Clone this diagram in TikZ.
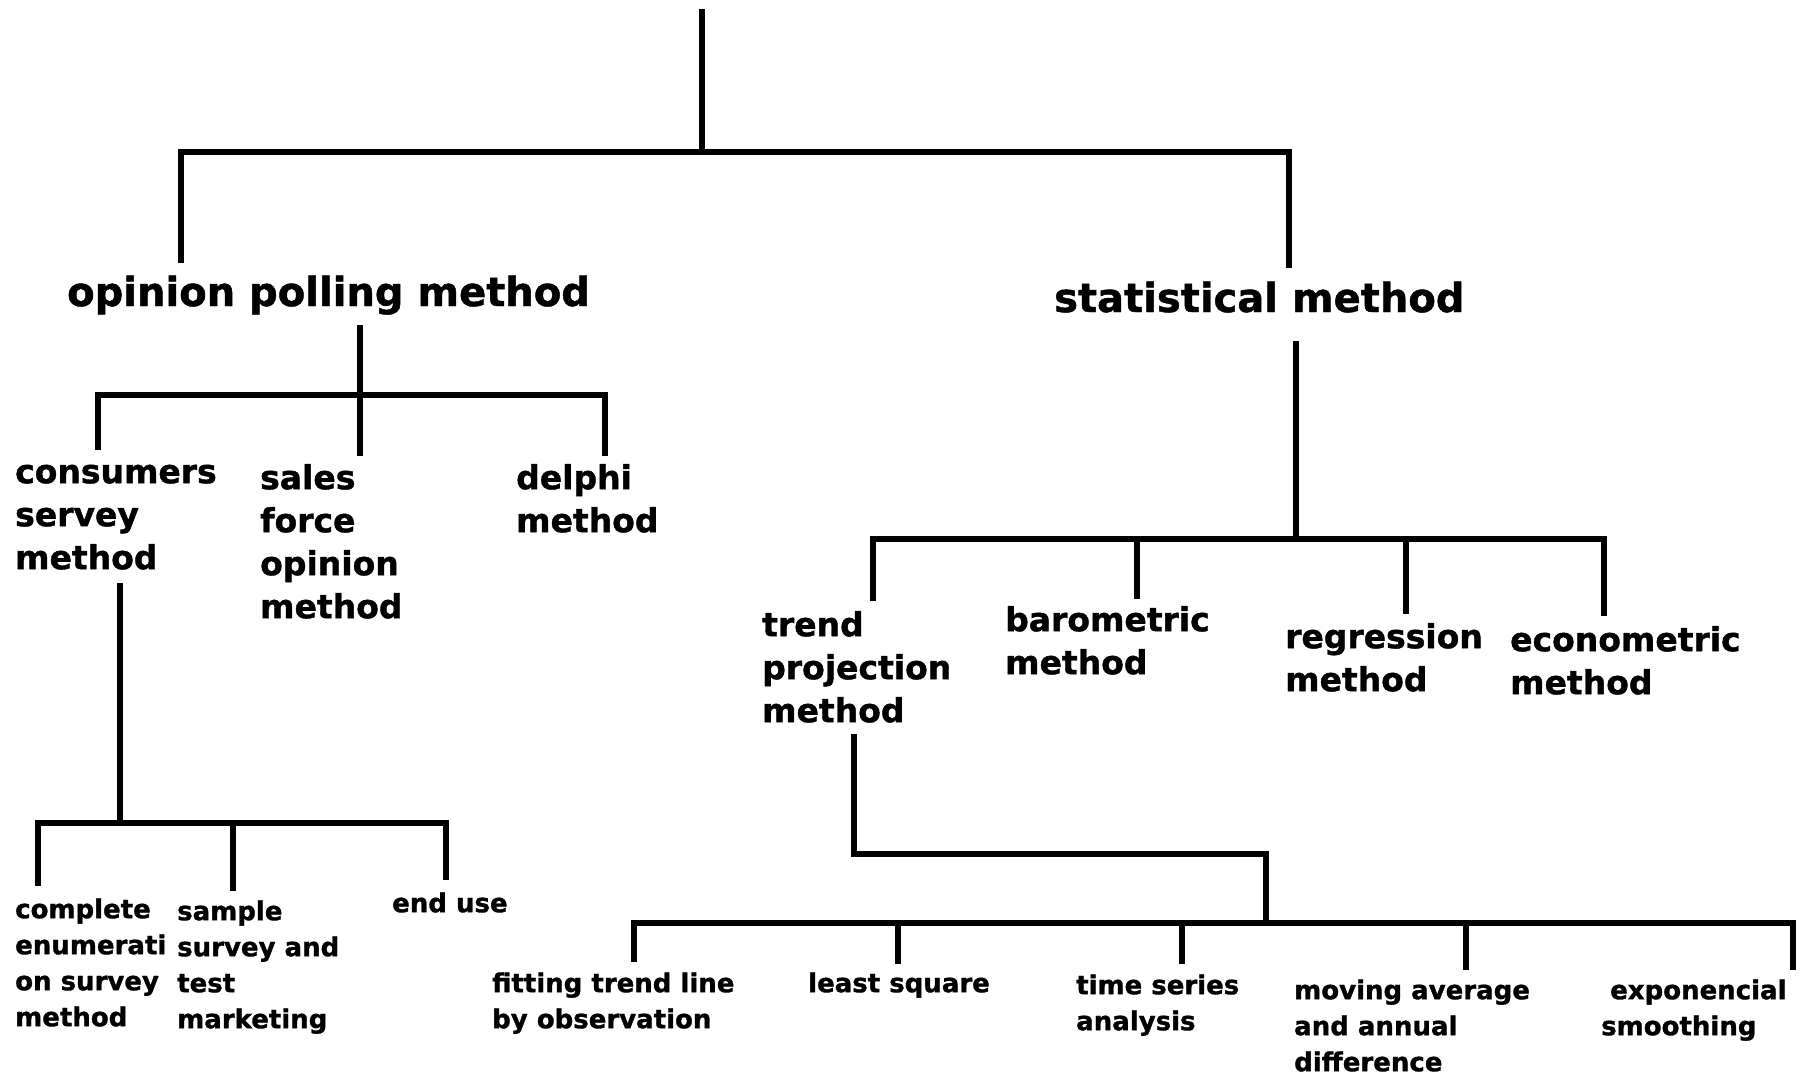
\documentclass[tikz,border=0pt]{standalone}
\usepackage{fontspec}
\setmainfont{DejaVu Sans}[BoldFeatures={FakeBold=1.2}]
\begin{document}
\begin{tikzpicture}[x=1pt,y=-1pt,
  tree/.style={line width=6pt, line join=miter},
  head/.style={inner sep=0pt, anchor=base west, font=\fontsize{40}{50}\selectfont\bfseries},
  mid/.style={inner sep=0pt, anchor=north west, align=left, yshift=30.1pt,
              font=\fontsize{33}{43}\selectfont\bfseries},
  leaf/.style={inner sep=0pt, anchor=north west, align=left, yshift=25.2pt,
               font=\fontsize{26}{36}\selectfont\bfseries}]
\useasboundingbox (0,0) rectangle (1810,1074);

% ---- labels ----
\node[head] (opl)  at (67,306)   {opinion polling method};
\node[head] (stat) at (1054,312) {statistical method};

\node[mid] (cons)  at (15,483)   {\strut consumers\\servey\\method};
\node[mid] (sales) at (260,489)  {\strut sales\\force\\opinion\\method};
\node[mid] (delph) at (516,489)  {\strut delphi\\method};

\node[mid] (trend) at (762,636)  {\strut trend\\projection\\method};
\node[mid] (baro)  at (1005,631) {\strut barometric\\method};
\node[mid] (regr)  at (1285,648) {\strut regression\\method};
\node[mid] (econ)  at (1510,651) {\strut econometric\\method};

\node[leaf] (compl) at (15,918)   {\strut complete\\enumerati\\on survey\\method};
\node[leaf] (samp)  at (177,920)  {\strut sample\\survey and\\test\\marketing};
\node[leaf] (enduse) at (392,912) {\strut end use};

\node[leaf] (fit)   at (492,992)  {\strut fitting trend line\\by observation};
\node[leaf] (least) at (808,992)  {\strut least square};
\node[leaf] (tser)  at (1076,994) {\strut time series\\analysis};
\node[leaf] (mov)   at (1294,999) {\strut moving average\\and annual\\difference};
\node[leaf] (expo)  at (1601,999) {\strut\hspace*{9pt}exponencial\\smoothing};

% ---- connector end points ----
\coordinate (r0) at (702,9);
\coordinate (j0) at (702,152);
\coordinate (oplIn) at (181,263);
\coordinate (statIn) at (1289,268);

\coordinate (oplOut) at (360,325);
\coordinate (j1) at (360,395);
\coordinate (consIn) at (98,450);
\coordinate (salesIn) at (360,456);
\coordinate (delphIn) at (605,456);

\coordinate (consOut) at (120,583);
\coordinate (j2) at (120,823);
\coordinate (complIn) at (38,886);
\coordinate (sampTop) at (233,823);
\coordinate (sampIn) at (233,891);
\coordinate (enduseIn) at (446,880);

\coordinate (statOut) at (1296,341);
\coordinate (j3) at (1296,539);
\coordinate (trendIn) at (873,601);
\coordinate (baroTop) at (1137,539);
\coordinate (baroIn) at (1137,599);
\coordinate (regrTop) at (1406,539);
\coordinate (regrIn) at (1406,614);
\coordinate (econIn) at (1604,616);

\coordinate (trendOut) at (854,734);
\coordinate (j4) at (1266,854);
\coordinate (j5) at (1266,923);
\coordinate (fitIn) at (634,962);
\coordinate (leastTop) at (898,923);
\coordinate (leastIn) at (898,964);
\coordinate (tserTop) at (1182,923);
\coordinate (tserIn) at (1182,964);
\coordinate (movTop) at (1466,923);
\coordinate (movIn) at (1466,970);
\coordinate (expoIn) at (1793,970);

% ---- tree lines ----
\draw[tree] (r0) -- (j0);
\draw[tree] (oplIn) |- (j0) -| (statIn);

\draw[tree] (oplOut) -- (salesIn);
\draw[tree] (consIn) |- (j1) -| (delphIn);

\draw[tree] (consOut) -- (j2);
\draw[tree] (complIn) |- (j2) -| (enduseIn);
\draw[tree] (sampTop) -- (sampIn);

\draw[tree] (statOut) -- (j3);
\draw[tree] (trendIn) |- (j3) -| (econIn);
\draw[tree] (baroTop) -- (baroIn);
\draw[tree] (regrTop) -- (regrIn);

\draw[tree] (trendOut) |- (j4) -- (j5);
\draw[tree] (fitIn) |- (j5) -| (expoIn);
\draw[tree] (leastTop) -- (leastIn);
\draw[tree] (tserTop) -- (tserIn);
\draw[tree] (movTop) -- (movIn);
\end{tikzpicture}
\end{document}
